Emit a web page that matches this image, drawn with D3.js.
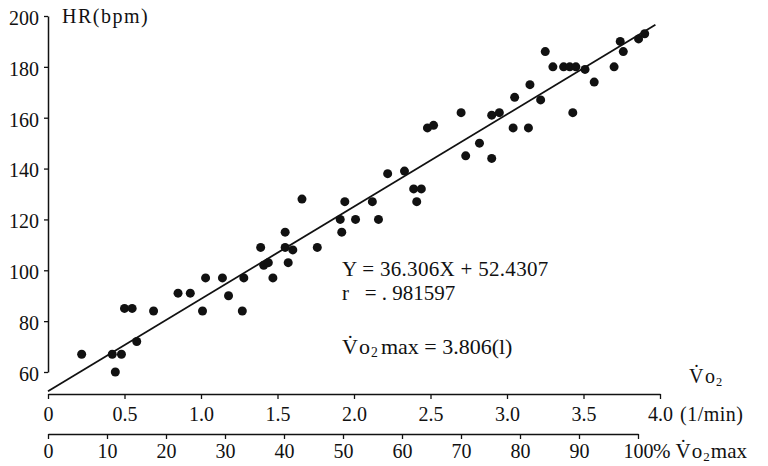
<!DOCTYPE html>
<html>
<head>
<meta charset="utf-8">
<script src="https://cdn.jsdelivr.net/npm/d3@7"></script>
<style>
  body { margin: 0; background: #fff; }
  svg text { font-family: "Liberation Serif", "DejaVu Serif", serif; fill: #111; white-space: pre; }
</style>
</head>
<body>
<div class="canvas"></div>
<script>
// data (VO2 in l/min, heart rate in bpm)
const vo2 = [0.22, 0.42, 0.48, 0.44, 0.50, 0.55, 0.58, 0.69, 0.85, 0.93,
  1.01, 1.03, 1.14, 1.18, 1.27, 1.28, 1.39, 1.47, 1.41, 1.44,
  1.57, 1.55, 1.55, 1.60, 1.66, 1.76, 1.91, 1.92, 1.94, 2.01,
  2.12, 2.16, 2.22, 2.33, 2.39, 2.44, 2.41, 2.48, 2.52, 2.70,
  2.73, 2.82, 2.90, 2.90, 2.95, 3.04, 3.14, 3.05, 3.15, 3.22,
  3.25, 3.30, 3.37, 3.41, 3.45, 3.43, 3.51, 3.57, 3.70, 3.74,
  3.76, 3.86, 3.90];
const hr = [67, 67, 67, 60, 85, 85, 72, 84, 91, 91,
  84, 97, 97, 90, 84, 97, 109, 97, 102, 103,
  103, 115, 109, 108, 128, 109, 120, 115, 127, 120,
  127, 120, 138, 139, 132, 132, 127, 156, 157, 162,
  145, 150, 144, 161, 162, 156, 156, 168, 173, 167,
  186, 180, 180, 180, 180, 162, 179, 174, 180, 190,
  186, 191, 193];

const yTicks = [60, 80, 100, 120, 140, 160, 180, 200];
const xTicks = [0, 0.5, 1.0, 1.5, 2.0, 2.5, 3.0, 3.5, 4.0];
const pctTicks = [0, 10, 20, 30, 40, 50, 60, 70, 80, 90, 100];

// regression Y = 36.306X + 52.4307
const slope = 36.306;
const intercept = 52.4307;
const fitRange = [0, 3.97];

const width = 768;
const height = 466;

const svg = d3.select('.canvas')
    .append('svg')
    .attr('width', width)
    .attr('height', height);

// scales
const x = d3.scaleLinear().domain([0, 4]).range([48, 660]);
const y = d3.scaleLinear().domain([60, 200]).range([372, 16]);
const pct = d3.scaleLinear().domain([0, 100]).range([48, 638]);

const fontSize = 20;

// y axis
const yAxisGroup = svg.append('g')
    .attr('transform', 'translate(48,0)')
    .call(d3.axisLeft(y).tickValues(yTicks).tickSize(4).tickSizeOuter(0).tickPadding(5));

// upper x axis (VO2)
const xAxisGroup = svg.append('g')
    .attr('transform', 'translate(0,394)')
    .call(d3.axisBottom(x).tickValues(xTicks).tickSize(5).tickSizeOuter(0)
        .tickFormat(d => d === 0 ? '0' : d3.format('.1f')(d)));

// lower x axis (%VO2max)
const pctAxisGroup = svg.append('g')
    .attr('transform', 'translate(0,434)')
    .call(d3.axisBottom(pct).tickValues(pctTicks).tickSize(5).tickSizeOuter(0));

[yAxisGroup, xAxisGroup, pctAxisGroup].forEach(g => {
    g.attr('font-family', null).attr('font-size', null);
    g.select('.domain').attr('stroke', '#111').attr('stroke-width', 1.5);
    g.selectAll('.tick line').attr('stroke', '#111').attr('stroke-width', 1.3);
    g.selectAll('.tick text').style('font-size', fontSize + 'px');
});

yAxisGroup.selectAll('.tick text').attr('dy', '0.42em');
xAxisGroup.selectAll('.tick text').attr('y', 27).attr('dy', 0);
pctAxisGroup.selectAll('.tick text').attr('y', 24).attr('dy', 0);

// regression line
const line = d3.line()
    .x(d => x(d))
    .y(d => y(slope * d + intercept));

svg.append('path')
    .datum(fitRange)
    .attr('fill', 'none')
    .attr('stroke', '#111')
    .attr('stroke-width', 1.8)
    .attr('d', line);

// points
svg.selectAll('circle')
    .data(vo2)
    .enter()
    .append('circle')
    .attr('cx', d => x(d))
    .attr('cy', (d, i) => y(hr[i]))
    .attr('r', 4.5)
    .attr('fill', '#111');

// labels
const label = (tx, ty, size) => svg.append('text')
    .attr('x', tx)
    .attr('y', ty)
    .style('font-size', size + 'px');

// V-dot-O2 with subscript
const vo2Text = (t, size) => {
    t.append('tspan').text('V\u0307');
    t.append('tspan').attr('dx', 4).text('o');
    t.append('tspan').text('2')
        .style('font-size', (size * 0.62) + 'px')
        .attr('dx', 1)
        .attr('dy', 3);
    return t;
};

label(62, 23, 20).style('letter-spacing', '1.5px').text('HR(bpm)');

label(342, 276, 21).style('letter-spacing', '0.3px').text('Y = 36.306X + 52.4307');
label(342, 300, 21).text('r   = . 981597');

const maxText = vo2Text(label(342, 354, 22), 22);
maxText.append('tspan').attr('dy', -3).attr('dx', 3).text('max = 3.806(l)');

vo2Text(label(689, 383, 20), 20);
label(680, 421, 20).style('letter-spacing', '0.5px').text('(1/min)');

const pctText = label(653, 458, 21);
pctText.append('tspan').text('% ');
vo2Text(pctText, 21);
pctText.append('tspan').attr('dy', -3).attr('dx', 1).text('max');
</script>
</body>
</html>
